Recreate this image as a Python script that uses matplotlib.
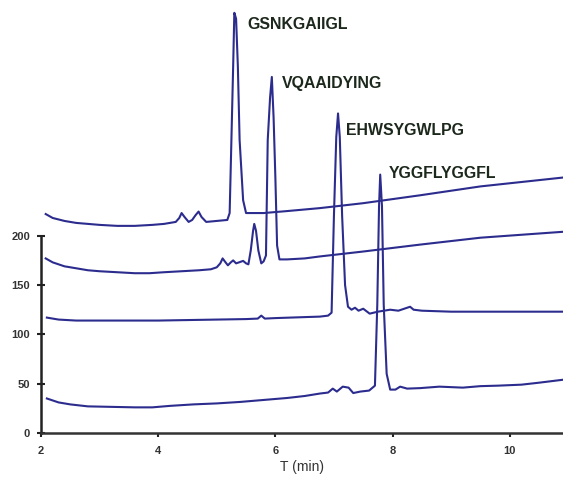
import matplotlib
matplotlib.use("Agg")
import matplotlib.pyplot as plt

# ---- data (time in min, signal) ----
a_x = [2.08, 2.2, 2.4, 2.6, 2.8, 3.0, 3.3, 3.6, 3.9, 4.1, 4.3, 4.36, 4.40, 4.45, 4.52, 4.58,
       4.64, 4.69, 4.74, 4.82, 5.0, 5.18, 5.22, 5.25, 5.28, 5.30, 5.33, 5.36, 5.39, 5.45, 5.50,
       5.6, 5.8, 6.2, 6.76, 7.5, 8.47, 9.5, 10.91]
a_y = [222, 218, 215, 213, 212, 211, 210, 210, 211, 212, 214, 218, 223, 219, 214, 216,
       221, 224.5, 219, 214, 215, 216, 223, 297, 372, 426, 420, 372, 297, 236, 223,
       223, 223, 225, 228, 233, 241, 250, 259]

b_x = [2.08, 2.2, 2.4, 2.6, 2.8, 3.0, 3.3, 3.6, 3.85, 4.1, 4.4, 4.7, 4.9, 5.0, 5.06, 5.10,
       5.15, 5.19, 5.24, 5.28, 5.33, 5.38, 5.45, 5.50, 5.54, 5.58, 5.62, 5.64, 5.67, 5.71,
       5.76, 5.80, 5.84, 5.87, 5.91, 5.94, 5.97, 6.00, 6.03, 6.07, 6.2, 6.5, 6.76, 7.5, 8.47,
       9.5, 10.91]
b_y = [177, 173, 169, 167, 165, 164, 163, 162, 162, 163, 164, 165, 166, 168, 172, 177,
       173, 170, 173, 175, 172, 173, 174.5, 172, 171, 185, 205, 212, 205, 185,
       172, 174, 180, 297, 340, 361, 320, 260, 190, 176, 176, 177, 179, 184, 191,
       198, 204]

c_x = [2.1, 2.3, 2.6, 3.0, 3.5, 4.0, 4.5, 5.0, 5.5, 5.7, 5.76, 5.82, 6.0, 6.5, 6.76, 6.9,
       6.96, 7.00, 7.04, 7.07, 7.10, 7.14, 7.19, 7.24, 7.30, 7.36, 7.42, 7.50, 7.61, 7.75,
       7.96, 8.1, 8.25, 8.30, 8.36, 8.5, 9.0, 9.5, 10.0, 10.91]
c_y = [117, 115, 114, 114, 114, 114, 114.5, 115, 115.5, 116, 119, 116, 116.5, 117.5, 118, 119,
       122, 220, 300, 324, 300, 220, 150, 128, 125, 127, 124, 126, 121, 123,
       125, 124, 127, 128, 125, 124, 123, 123, 123, 123]

d_x = [2.1, 2.3, 2.5, 2.8, 3.2, 3.6, 3.9, 4.2, 4.6, 5.0, 5.4, 5.8, 6.2, 6.5, 6.76, 6.9,
       6.98, 7.05, 7.15, 7.25, 7.33, 7.45, 7.60, 7.70, 7.74, 7.77, 7.79, 7.82, 7.85, 7.90,
       7.96, 8.05, 8.13, 8.25, 8.47, 8.8, 9.2, 9.5, 9.8, 10.2, 10.5, 10.91]
d_y = [35, 31, 29, 27, 26.5, 26, 26, 27.5, 29, 30, 31.5, 33.5, 35.5, 37.5, 40, 41,
       45, 42, 47, 46, 40.5, 42, 43, 48, 130, 230, 262, 230, 130, 60,
       44, 44, 47, 45, 45.5, 47, 46, 47.5, 48, 49, 51, 54]

labels = ["GSNKGAIIGL", "VQAAIDYING", "EHWSYGWLPG", "YGGFLYGGFL"]
label_x = [5.52, 6.12, 7.21, 7.94]
label_y = [414, 354, 307, 263]

x_ticks = [2, 4, 6, 8, 10]
y_ticks = [0, 50, 100, 150, 200]

line_color = "#2c2c8e"
text_color = "#1c281c"

fig = plt.figure(figsize=(5.63, 4.79), dpi=100)
ax = fig.add_axes([41 / 563, 46 / 479, 522 / 563, 433 / 479])

for xs, ys in [(a_x, a_y), (b_x, b_y), (c_x, c_y), (d_x, d_y)]:
    ax.plot(xs, ys, color=line_color, lw=1.5, solid_joinstyle="round", clip_on=False)

for t, lx, ly in zip(labels, label_x, label_y):
    ax.text(lx, ly, t, fontsize=11.4, fontweight="bold", color=text_color,
            family="Liberation Sans", ha="left", va="center")

ax.set_xlim(2, 10.91)
ax.set_ylim(0, 439)
ax.set_xticks(x_ticks)
ax.set_yticks(y_ticks)
ax.set_xticklabels([str(v) for v in x_ticks])
ax.set_yticklabels([str(v) for v in y_ticks])

for s in ["top", "right"]:
    ax.spines[s].set_visible(False)
ax.spines["left"].set_bounds(0, 200)
ax.spines["left"].set_linewidth(1.8)
ax.spines["bottom"].set_linewidth(1.8)
ax.spines["left"].set_color("#222222")
ax.spines["bottom"].set_color("#333333")

ax.tick_params(axis="y", direction="inout", length=6, width=1.5, colors="#222222",
               labelsize=8, labelcolor="#333333", pad=5)
ax.tick_params(axis="x", direction="out", length=3, width=1.5, colors="#222222",
               labelsize=8, labelcolor="#333333", pad=6)
for lab in ax.get_xticklabels() + ax.get_yticklabels():
    lab.set_family("Liberation Sans")
    lab.set_fontweight("bold")

ax.set_xlabel("T (min)", fontsize=10, family="Liberation Sans", color="#333333", labelpad=3)

fig.savefig("out.png", dpi=100)
